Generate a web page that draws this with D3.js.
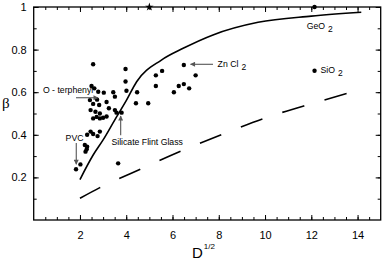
<!DOCTYPE html>
<html>
<head>
<meta charset="utf-8">
<script src="https://cdn.jsdelivr.net/npm/d3@7"></script>
<style>
  html, body { margin: 0; padding: 0; background: #fff; }
  svg { display: block; font-family: "Liberation Sans", Arial, Helvetica, sans-serif; }
</style>
</head>
<body>
<div id="chart"></div>
<script>
// ---- data ----------------------------------------------------------------
var xTicks = [2, 4, 6, 8, 10, 12, 14];
var yTicks = [0.2, 0.4, 0.6, 0.8, 1];

// solid model curve
var curveX = [2.0, 2.57, 3.0, 3.5, 4.0, 4.45, 5.52, 6.46, 7.75, 9.7, 12.0, 14.16];
var curveB = [0.19, 0.305, 0.376, 0.469, 0.56, 0.649, 0.751, 0.806, 0.869, 0.928, 0.957, 0.975];

// dashed lower curve
var dashX = [2.0, 2.86, 4.70, 6.49, 8.33, 10.17, 12.07, 13.97];
var dashB = [0.102, 0.152, 0.243, 0.329, 0.41, 0.485, 0.548, 0.607];

// measured glasses
var ptX = [2.57, 3.97, 3.97, 4.01, 4.47, 2.50, 2.62, 2.79, 3.03, 3.44, 3.51,
           2.43, 2.74, 3.15, 2.57, 2.83, 3.25, 3.51, 2.46, 2.67, 2.86, 3.58, 3.80,
           2.72, 2.57, 2.86, 3.0, 3.15,
           2.46, 2.31, 2.57, 2.76, 2.86, 2.21, 2.31, 2.29, 2.24, 2.02, 1.83, 3.65,
           6.49, 5.55, 5.28, 7.0, 5.28, 6.27, 6.49, 6.72, 6.06, 4.42, 4.95, 12.14];
var ptB = [0.731, 0.709, 0.650, 0.607, 0.600, 0.629, 0.618, 0.602, 0.598, 0.600, 0.579,
           0.563, 0.565, 0.554, 0.545, 0.540, 0.525, 0.516, 0.516, 0.508, 0.500, 0.504, 0.504,
           0.484, 0.477, 0.477, 0.480, 0.486,
           0.415, 0.400, 0.404, 0.394, 0.415, 0.352, 0.344, 0.332, 0.321, 0.261, 0.238, 0.266,
           0.728, 0.700, 0.679, 0.679, 0.629, 0.629, 0.638, 0.618, 0.600, 0.548, 0.548, 0.701];

// marks on the top border
var starX = [5.0];
var topDotX = [12.14];

// ---- layout ----------------------------------------------------------------
var W = 382, H = 265;
var L = 33.7, R = 380.7, T = 7, B = 220;

var x = d3.scaleLinear().domain([0, 15]).range([L, R]);
var y = d3.scaleLinear().domain([0, 1]).range([B, T]);

var svg = d3.select('#chart').append('svg')
  .attr('width', W).attr('height', H);

var defs = svg.append('defs');
defs.append('marker')
  .attr('id', 'ah')
  .attr('viewBox', '0 0 10 10')
  .attr('refX', 9).attr('refY', 5)
  .attr('markerWidth', 6).attr('markerHeight', 5)
  .attr('markerUnits', 'userSpaceOnUse')
  .attr('orient', 'auto')
  .append('path').attr('d', 'M0,0L10,5L0,10z').attr('fill', '#555');

// ---- axes (ticks pointing inward on all four sides) -----------------------
var minorX = d3.range(0.5, 15, 0.5);
var minorY = d3.range(0.1, 1, 0.1);

function styleAxis(g) {
  g.select('.domain').remove();
  g.selectAll('.tick line').attr('stroke', '#000').attr('stroke-width', 1);
  g.selectAll('.tick text').attr('fill', '#000').style('font-size', '11px');
}

svg.append('g').attr('transform', 'translate(0,' + B + ')')
  .call(d3.axisBottom(x).tickValues(minorX).tickSize(-3).tickFormat(''))
  .call(styleAxis);
svg.append('g').attr('transform', 'translate(0,' + B + ')')
  .call(d3.axisBottom(x).tickValues(xTicks).tickSize(-5).tickPadding(11).tickFormat(d3.format('d')))
  .call(styleAxis);
svg.append('g').attr('transform', 'translate(0,' + T + ')')
  .call(d3.axisTop(x).tickValues(minorX).tickSize(-3).tickFormat(''))
  .call(styleAxis);
svg.append('g').attr('transform', 'translate(0,' + T + ')')
  .call(d3.axisTop(x).tickValues(xTicks).tickSize(-5).tickFormat(''))
  .call(styleAxis);

svg.append('g').attr('transform', 'translate(' + L + ',0)')
  .call(d3.axisLeft(y).tickValues(minorY).tickSize(-3).tickFormat(''))
  .call(styleAxis);
svg.append('g').attr('transform', 'translate(' + L + ',0)')
  .call(d3.axisLeft(y).tickValues(yTicks).tickSize(-5).tickPadding(7)
    .tickFormat(function(d) { return d === 1 ? '1' : d3.format('.1f')(d); }))
  .call(styleAxis);
svg.append('g').attr('transform', 'translate(' + R + ',0)')
  .call(d3.axisRight(y).tickValues(minorY).tickSize(-3).tickFormat(''))
  .call(styleAxis);
svg.append('g').attr('transform', 'translate(' + R + ',0)')
  .call(d3.axisRight(y).tickValues(yTicks).tickSize(-5).tickFormat(''))
  .call(styleAxis);

svg.append('rect')
  .attr('x', L).attr('y', T).attr('width', R - L).attr('height', B - T)
  .attr('fill', 'none').attr('stroke', '#000').attr('stroke-width', 1.3);

// ---- curves ----------------------------------------------------------------
var line = d3.line().x(function(d) { return x(d[0]); }).y(function(d) { return y(d[1]); });

svg.append('path')
  .datum(d3.zip(curveX, curveB))
  .attr('d', line.curve(d3.curveMonotoneX))
  .attr('fill', 'none').attr('stroke', '#000').attr('stroke-width', 1.6);

svg.append('path')
  .datum(d3.zip(dashX, dashB))
  .attr('d', line.curve(d3.curveMonotoneX))
  .attr('fill', 'none').attr('stroke', '#000').attr('stroke-width', 1.6)
  .attr('stroke-dasharray', '23,21');

// ---- points ------------------------------------------------------------------
svg.append('g').selectAll('circle')
  .data(d3.zip(ptX, ptB))
  .join('circle')
  .attr('cx', function(d) { return x(d[0]); })
  .attr('cy', function(d) { return y(d[1]); })
  .attr('r', 2.2)
  .attr('fill', '#000');

svg.append('g').selectAll('circle')
  .data(topDotX)
  .join('circle')
  .attr('cx', function(d) { return x(d); })
  .attr('cy', y(1))
  .attr('r', 2.2).attr('fill', '#000');

svg.append('g').selectAll('path')
  .data(starX)
  .join('path')
  .attr('transform', function(d) { return 'translate(' + x(d) + ',' + y(1) + ')'; })
  .attr('d', d3.symbol(d3.symbolStar, 22))
  .attr('fill', '#000');

// ---- annotations -----------------------------------------------------------
function arrow(x1, y1, x2, y2) {
  svg.append('line')
    .attr('x1', x(x1)).attr('y1', y(y1)).attr('x2', x(x2)).attr('y2', y(y2))
    .attr('stroke', '#555').attr('stroke-width', 1.1)
    .attr('marker-end', 'url(#ah)');
}
function label(xv, yv, txt, sub) {
  var t = svg.append('text')
    .attr('x', x(xv)).attr('y', y(yv))
    .style('font-size', '8.7px').attr('fill', '#000')
    .text(txt);
  if (sub) {
    t.append('tspan').attr('dx', 3).attr('dy', 3).style('font-size', '8.5px').text(sub);
  }
}

label(0.4, 0.597, 'O - terphenyl');
arrow(1.83, 0.574, 2.78, 0.574);

label(1.38, 0.37, 'PVC');
arrow(1.84, 0.362, 1.84, 0.262);

label(3.36, 0.351, 'Silicate Flint Glass');
arrow(3.76, 0.398, 3.76, 0.488);

label(7.95, 0.72, 'Zn Cl', '2');
arrow(7.75, 0.731, 6.78, 0.731);

label(11.8, 0.895, 'GeO', '2');
label(12.4, 0.688, 'SiO', '2');

// ---- axis titles -----------------------------------------------------------
svg.append('text')
  .attr('x', 2).attr('y', 108)
  .style('font-family', '"Liberation Serif", "DejaVu Serif", serif')
  .style('font-size', '15px')
  .text('\u03b2');

var xt = svg.append('text')
  .attr('x', 192).attr('y', 258)
  .style('font-size', '15px')
  .text('D');
xt.append('tspan').attr('dy', -9).attr('dx', 1).style('font-size', '8px').text('1/2');
</script>
</body>
</html>
